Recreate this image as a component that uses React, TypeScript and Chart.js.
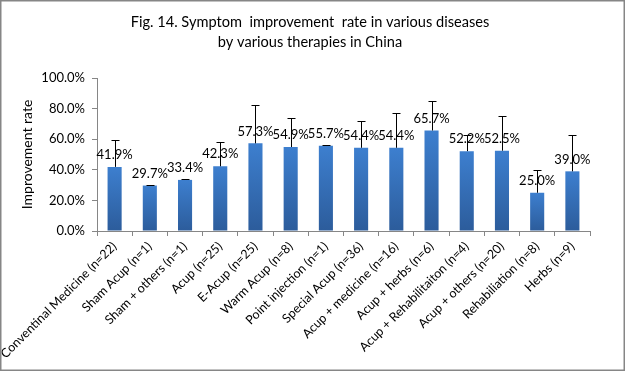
import React, { useEffect, useRef } from "react";
import { Chart, registerables } from "chart.js";

Chart.register(...registerables);

const titleLines = [
  "Fig. 14. Symptom  improvement  rate in various diseases",
  "by various therapies in China",
];
const yAxisTitle = "Improvement rate";
const categories = [
  "Conventinal Medicine (n=22)",
  "Sham Acup (n=1)",
  "Sham + others (n=1)",
  "Acup (n=25)",
  "E-Acup (n=25)",
  "Warm Acup (n=8)",
  "Point injection (n=1)",
  "Special Acup (n=36)",
  "Acup + medicine (n=16)",
  "Acup + herbs (n=6)",
  "Acup + Rehabilitaiton (n=4)",
  "Acup + others (n=20)",
  "Rehabiliation (n=8)",
  "Herbs (n=9)",
];
const rates = [41.9, 29.7, 33.4, 42.3, 57.3, 54.9, 55.7, 54.4, 54.4, 65.7, 52.2, 52.5, 25.0, 39.0];
const errorPlus = [17.7, 0.3, 0.9, 16.0, 25.3, 19.1, 0.4, 17.6, 22.4, 19.3, 10.7, 22.5, 14.6, 23.9];
const yTicks = [0, 20, 40, 60, 80, 100];

const FONT = "Lato, 'Open Sans', sans-serif";

export default function App() {
  const ref = useRef<HTMLCanvasElement | null>(null);
  useEffect(() => {
    const canvas = ref.current;
    if (!canvas) return;

    const decoPlugin = {
      id: "deco",
      afterDraw(chart: any) {
        const ctx = chart.ctx;
        ctx.save();
        ctx.strokeStyle = "#868686";
        ctx.lineWidth = 1.5;
        ctx.strokeRect(0.75, 0.75, chart.width - 1.5, chart.height - 1.5);
        ctx.font = `14.6px ${FONT}`;
        ctx.fillStyle = "#000";
        ctx.textAlign = "center";
        ctx.textBaseline = "middle";
        titleLines.forEach((t, i) => ctx.fillText(t, 310, 22 + i * 20));
        ctx.restore();
      },
    };

    const labelPlugin = {
      id: "labelsAndErrors",
      afterDatasetsDraw(chart: any) {
        const ctx = chart.ctx;
        const meta = chart.getDatasetMeta(0);
        const ys = chart.scales.y;
        ctx.save();
        ctx.font = `13px ${FONT}`;
        ctx.fillStyle = "#000";
        ctx.textAlign = "center";
        ctx.textBaseline = "middle";
        meta.data.forEach((bar: any, i: number) => {
          ctx.fillText(rates[i].toFixed(1) + "%", bar.x, bar.y - 12);
        });
        ctx.strokeStyle = "#000";
        ctx.lineWidth = 1;
        meta.data.forEach((bar: any, i: number) => {
          const top = Math.round(ys.getPixelForValue(rates[i] + errorPlus[i])) + 0.5;
          const x = Math.round(bar.x) + 0.5;
          ctx.beginPath();
          ctx.moveTo(x, bar.y);
          ctx.lineTo(x, top);
          ctx.moveTo(x - 4, top);
          ctx.lineTo(x + 4, top);
          ctx.stroke();
        });
        ctx.restore();
      },
    };

    const chart = new Chart(canvas, {
      type: "bar",
      data: {
        labels: categories,
        datasets: [
          {
            data: rates,
            barPercentage: 0.4,
            categoryPercentage: 1,
            backgroundColor: (c: any) => {
              const ch = c.chart;
              const ys = ch.scales && ch.scales.y;
              if (!ch.chartArea || !ys || c.raw == null) return "#3672c0";
              const top = ys.getPixelForValue(c.raw);
              const g = ch.ctx.createLinearGradient(0, top, 0, ys.bottom);
              g.addColorStop(0, "#3d7fcf");
              g.addColorStop(1, "#2c5c9b");
              return g;
            },
            borderWidth: 0,
          },
        ],
      },
      options: {
        responsive: false,
        animation: false,
        layout: { padding: { top: 78, right: 35, bottom: 0, left: 0 } },
        plugins: {
          legend: { display: false },
          tooltip: { enabled: false },
          title: { display: false },
        },
        scales: {
          x: {
            grid: {
              display: true,
              drawOnChartArea: false,
              drawTicks: true,
              tickLength: 5,
              color: "#868686",
              offset: true,
            },
            border: { display: true, color: "#868686" },
            ticks: {
              color: "#000",
              font: { family: FONT, size: 12.5 },
              minRotation: 45,
              maxRotation: 45,
              autoSkip: false,
              padding: 3,
            },
            afterFit: (s: any) => {
              s.height = 140;
              s.paddingLeft = 0;
              s.paddingRight = 0;
            },
          },
          y: {
            min: 0,
            max: 100,
            afterBuildTicks: (s: any) => {
              s.ticks = yTicks.map((v) => ({ value: v }));
            },
            grid: {
              display: true,
              drawOnChartArea: false,
              drawTicks: true,
              tickLength: 5,
              color: "#868686",
            },
            border: { display: true, color: "#868686" },
            ticks: {
              color: "#000",
              font: { family: FONT, size: 13 },
              padding: 7,
              callback: (v: any) => Number(v).toFixed(1) + "%",
            },
            title: {
              display: true,
              text: yAxisTitle,
              color: "#000",
              font: { family: FONT, size: 14, weight: "normal", lineHeight: 1.2 },
              padding: { top: 19, bottom: 0 },
            },
            afterFit: (s: any) => {
              s.width = 97;
            },
          },
        },
      },
      plugins: [labelPlugin, decoPlugin],
    } as any);
    return () => chart.destroy();
  }, []);

  return (
    <div style={{ position: "fixed", left: 0, top: 0, width: 625, height: 371, background: "#fff" }}>
      <canvas ref={ref} width={625} height={371} style={{ display: "block", width: 625, height: 371 }} />
    </div>
  );
}
